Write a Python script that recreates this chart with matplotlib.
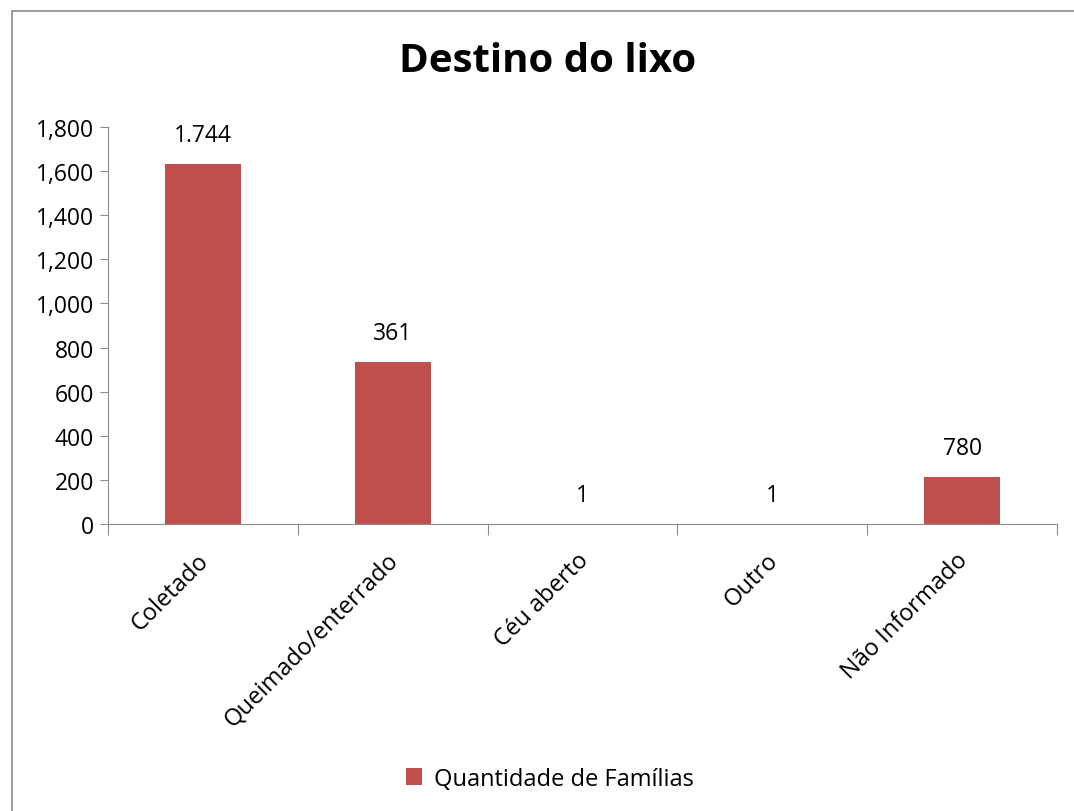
import matplotlib.pyplot as plt
from matplotlib.patches import Rectangle
from matplotlib.ticker import FuncFormatter, FixedLocator
from matplotlib.transforms import ScaledTranslation

plt.rcParams['font.family'] = ['Open Sans', 'DejaVu Sans']

categorias = ["Coletado", "Queimado/enterrado", "Céu aberto", "Outro", "Não Informado"]
alturas = [1632, 734, 1, 1, 213]
rotulos = ["1.744", "361", "1", "1", "780"]
serie = "Quantidade de Famílias"

fig = plt.figure(figsize=(10.74, 8.12), dpi=100)
ax = fig.add_axes([108 / 1074, 287 / 812, 949 / 1074, 397 / 812])

# moldura cinza do gráfico
fig.patches.append(Rectangle((12 / 1074, -0.1), 1.2, (800 / 812) + 0.1,
                             transform=fig.transFigure, fill=False,
                             edgecolor="#8c8c8c", linewidth=1.2))

x = list(range(len(categorias)))
barras = ax.bar(x, alturas, width=0.4, color="#C0504D", label=serie)

for xi, h, txt in zip(x, alturas, rotulos):
    ax.annotate(txt, (xi, h), xytext=(0, 12), textcoords="offset points",
                ha="center", va="bottom", fontsize=16.5)

ax.set_xlim(-0.5, len(categorias) - 0.5)
ax.set_ylim(0, 1800)
ax.set_yticks(range(0, 1801, 200))
ax.yaxis.set_major_formatter(FuncFormatter(lambda v, p: f"{int(v):,}"))

# ticks nas divisas das categorias, nomes girados 45°
ax.xaxis.set_major_locator(FixedLocator([i - 0.5 for i in range(len(categorias) + 1)]))
ax.set_xticklabels([])
desloc = ScaledTranslation(-6 / 100, -24 / 100, fig.dpi_scale_trans)
for xi, cat in zip(x, categorias):
    ax.text(xi, 0, cat, transform=ax.get_xaxis_transform() + desloc,
            rotation=45, ha="right", va="top", rotation_mode="anchor",
            fontsize=17)
ax.tick_params(axis="x", which="major", length=8, color="#8c8c8c")
ax.tick_params(axis="y", length=6, color="#8c8c8c", labelsize=16.5, pad=4)

for s in ["top", "right"]:
    ax.spines[s].set_visible(False)
ax.spines["left"].set_color("#8c8c8c")
ax.spines["bottom"].set_color("#8c8c8c")

fig.text(548 / 1074, 1 - 62 / 812, "Destino do lixo", ha="center", va="center",
         fontsize=29, fontweight="bold")

fig.legend(handles=[barras], labels=[serie], loc="center",
           bbox_to_anchor=(550 / 1074, 1 - 780 / 812), frameon=False,
           fontsize=17, handlelength=0.7, handleheight=0.7, handletextpad=0.5)

fig.savefig("out.png", dpi=100)
